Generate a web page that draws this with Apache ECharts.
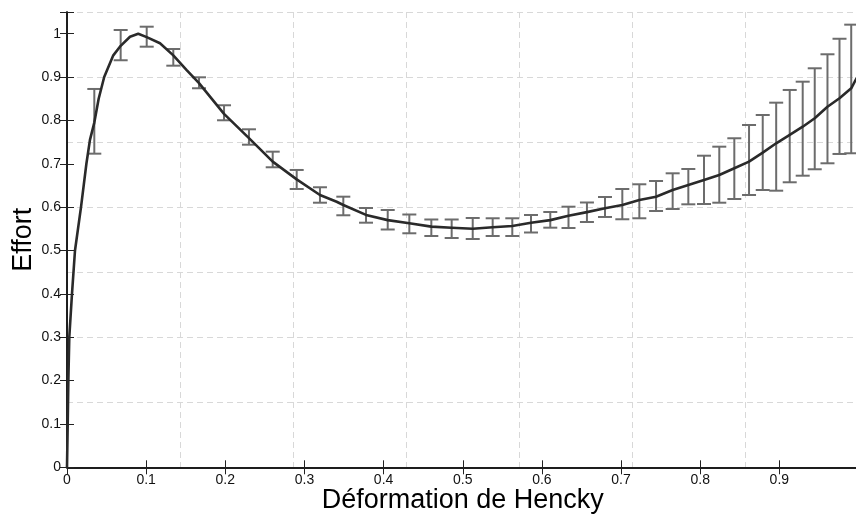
<!DOCTYPE html>
<html>
<head>
<meta charset="utf-8">
<script src="https://cdn.jsdelivr.net/npm/echarts@6/dist/echarts.min.js"></script>
<style>
  html, body { margin: 0; padding: 0; background: #fff; }
  #chart { width: 856px; height: 515px; }
</style>
</head>
<body>
<div id="chart"></div>
<script>
// ---- Data ----
const strain = [0, 0.0009, 0.0017, 0.0029, 0.0063, 0.0101, 0.0177, 0.0245, 0.029, 0.0345, 0.040, 0.047, 0.0585, 0.0678,
  0.0796, 0.09, 0.1007, 0.1175, 0.1343, 0.1512, 0.1668, 0.1984, 0.2299, 0.2599, 0.2902, 0.3196, 0.3407, 0.3491,
  0.3778, 0.4052, 0.4325, 0.4603, 0.486, 0.5126, 0.5378, 0.5626, 0.5862, 0.6106, 0.6336, 0.6569, 0.6797, 0.7016,
  0.7231, 0.7442, 0.7652, 0.785, 0.8048, 0.8241, 0.8431, 0.8617, 0.879, 0.896, 0.9131, 0.9295, 0.9447, 0.9608,
  0.976, 0.9908, 0.9975, 1.0];
const effort = [0, 0.1, 0.2, 0.3, 0.4, 0.5, 0.6, 0.7, 0.755, 0.795, 0.85, 0.9, 0.95, 0.972,
  0.993, 1.0, 0.992, 0.978, 0.95, 0.916, 0.886, 0.815, 0.759, 0.705, 0.664, 0.628, 0.6125, 0.605,
  0.582, 0.570, 0.563, 0.555, 0.5526, 0.550, 0.5535, 0.5565, 0.564, 0.570, 0.580, 0.5885, 0.5973, 0.605,
  0.6165, 0.6241, 0.6395, 0.651, 0.6626, 0.6741, 0.6896, 0.7048, 0.7256, 0.7472, 0.7664, 0.7855, 0.8049, 0.8316,
  0.851, 0.874, 0.897, 0.905];

const barStrain = [0.0345, 0.0678, 0.1007, 0.1343, 0.1668, 0.1984, 0.2299, 0.2599, 0.2902, 0.3196,
  0.3491, 0.3778, 0.4052, 0.4325, 0.4603, 0.486, 0.5126, 0.5378, 0.5626, 0.5862,
  0.6106, 0.6336, 0.6569, 0.6797, 0.7016, 0.7231, 0.7442, 0.7652, 0.785, 0.8048,
  0.8241, 0.8431, 0.8617, 0.879, 0.896, 0.9131, 0.9295, 0.9447, 0.9608, 0.976, 0.9908];
const barHigh = [0.8725, 1.0085, 1.0161, 0.9647, 0.8994, 0.8349, 0.7795, 0.7279, 0.6857, 0.6458,
  0.6241, 0.598, 0.5934, 0.583, 0.5715, 0.5715, 0.575, 0.5743, 0.5743, 0.5819,
  0.5888, 0.601, 0.6107, 0.6234, 0.6418, 0.6527, 0.6603, 0.678, 0.688, 0.7186,
  0.7394, 0.7588, 0.7894, 0.8125, 0.8409, 0.8702, 0.8893, 0.9202, 0.9525, 0.9883, 1.0208];
const barLow = [0.7233, 0.9387, 0.970, 0.9262, 0.8741, 0.8003, 0.744, 0.6919, 0.6418, 0.6102,
  0.5812, 0.5641, 0.5484, 0.5397, 0.5334, 0.5288, 0.5265, 0.5334, 0.5334, 0.5415,
  0.5526, 0.5519, 0.5657, 0.5773, 0.572, 0.5743, 0.5911, 0.5957, 0.6065, 0.6072,
  0.6102, 0.6188, 0.628, 0.6395, 0.6379, 0.6573, 0.6725, 0.6873, 0.7011, 0.7226, 0.7242];

const xTickStep = 0.1;
const yTickStep = 0.1;
const xGridStep = 1 / 7;
const yGridStep = 0.15;
const xMax = 1.0;
const yMax = 1.05;
const xTitle = 'Déformation de Hencky';
const yTitle = 'Effort';

// ---- Chart ----
const FONT = '"Liberation Sans", Arial, Helvetica, sans-serif';
const chart = echarts.init(document.getElementById('chart'), null, { renderer: 'canvas' });

const lineData = strain.map((x, i) => [x, effort[i]]);
const barData = barStrain.map((x, i) => [x, barLow[i], barHigh[i]]);

const frameLine = { show: true, lineStyle: { color: '#111', width: 1.5 } };
const innerTick = { show: true, inside: true, length: 7, lineStyle: { color: '#222', width: 1 } };
const gridSplit = { show: true, lineStyle: { color: '#d8d8d8', width: 1, type: [6, 4] } };

const option = {
  backgroundColor: '#fff',
  animation: false,
  grid: { left: 67, top: 12, width: 791.5, height: 455.3, containLabel: false, outerBoundsMode: 'none' },
  xAxis: [
    {
      type: 'value', position: 'bottom', min: 0, max: xMax, interval: xTickStep,
      axisLine: frameLine, axisTick: innerTick, splitLine: { show: false },
      axisLabel: {
        show: true, margin: 6, color: '#111', fontSize: 14, fontFamily: FONT,
        formatter: v => (v > 0.95 ? '' : String(Math.round(v * 10) / 10))
      },
      name: xTitle, nameLocation: 'middle', nameGap: 20, nameMoveOverlap: false,
      nameTextStyle: { fontSize: 27, fontFamily: FONT, color: '#000' }
    },
    {
      type: 'value', position: 'bottom', min: 0, max: xMax, interval: xGridStep,
      axisLine: { show: false }, axisTick: { show: false }, axisLabel: { show: false },
      splitLine: gridSplit
    },
    {
      type: 'value', position: 'top', min: 0, max: xMax, interval: xTickStep,
      axisLine: frameLine, axisTick: innerTick, axisLabel: { show: false }, splitLine: { show: false }
    }
  ],
  yAxis: [
    {
      type: 'value', position: 'left', min: 0, max: yMax, interval: yTickStep,
      axisLine: frameLine, axisTick: innerTick, splitLine: { show: false },
      axisLabel: {
        show: true, margin: 6, color: '#111', fontSize: 14, fontFamily: FONT,
        formatter: v => (v > 1.01 ? '' : String(Math.round(v * 10) / 10))
      },
      name: yTitle, nameLocation: 'middle', nameGap: 30, nameRotate: 90, nameMoveOverlap: false,
      nameTextStyle: { fontSize: 27, fontFamily: FONT, color: '#000' }
    },
    {
      type: 'value', position: 'left', min: 0, max: yMax, interval: yGridStep,
      axisLine: { show: false }, axisTick: { show: false }, axisLabel: { show: false },
      splitLine: gridSplit
    },
    {
      type: 'value', position: 'right', min: 0, max: yMax, interval: yTickStep,
      axisLine: frameLine, axisTick: innerTick, axisLabel: { show: false }, splitLine: { show: false }
    }
  ],
  series: [
    {
      type: 'custom',
      xAxisIndex: 0, yAxisIndex: 0,
      data: barData,
      encode: { x: 0, y: [1, 2] },
      z: 2,
      clip: false,
      renderItem: function (params, api) {
        const x = api.value(0);
        const lo = api.coord([x, api.value(1)]);
        const hi = api.coord([x, api.value(2)]);
        const hw = 7;
        const st = { stroke: '#6c6c6c', lineWidth: 2, fill: null };
        return {
          type: 'group',
          children: [
            { type: 'line', shape: { x1: hi[0], y1: hi[1], x2: lo[0], y2: lo[1] }, style: st },
            { type: 'line', shape: { x1: hi[0] - hw, y1: hi[1], x2: hi[0] + hw, y2: hi[1] }, style: st },
            { type: 'line', shape: { x1: lo[0] - hw, y1: lo[1], x2: lo[0] + hw, y2: lo[1] }, style: st }
          ]
        };
      }
    },
    {
      type: 'line',
      xAxisIndex: 0, yAxisIndex: 0,
      data: lineData,
      showSymbol: false,
      smooth: false,
      z: 3,
      lineStyle: { color: '#2a2a2a', width: 2.6, join: 'round' }
    }
  ]
};
chart.setOption(option);
</script>
</body>
</html>
